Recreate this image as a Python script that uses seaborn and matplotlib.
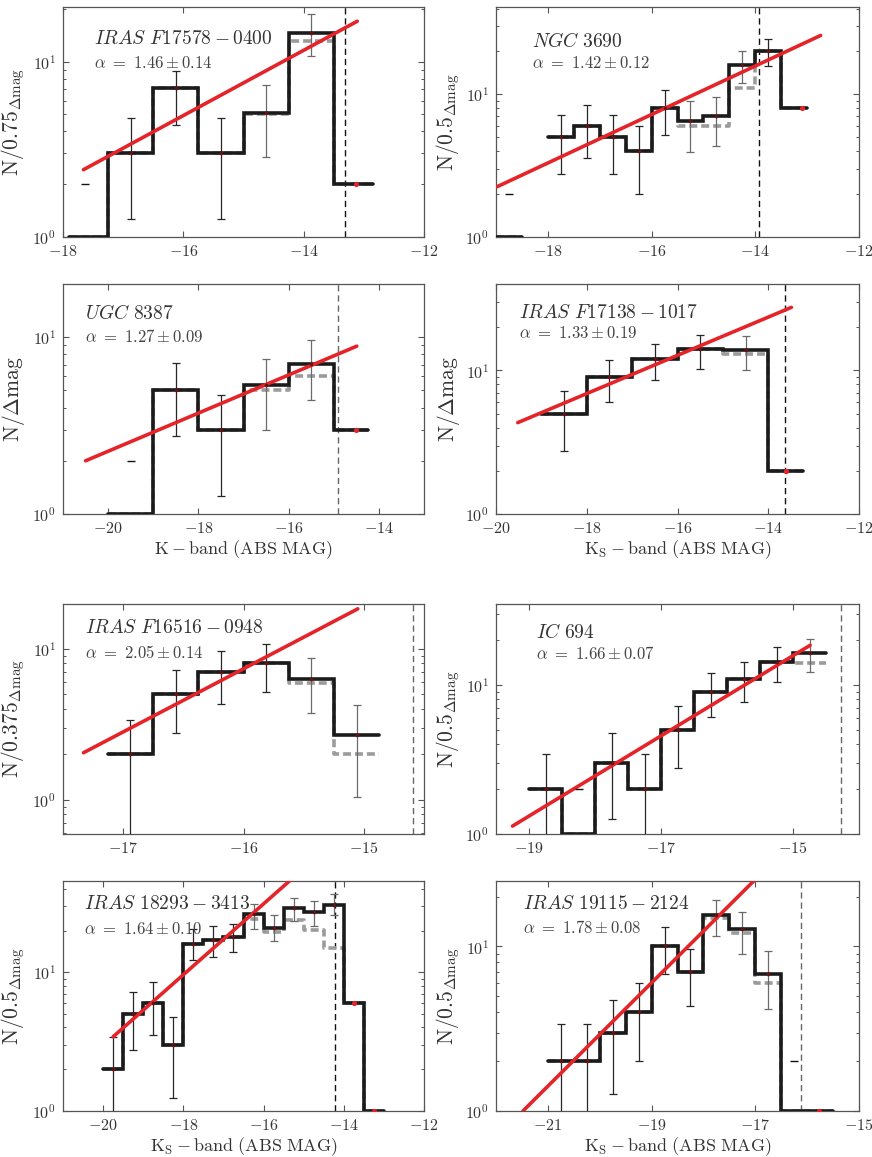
import numpy as np
import matplotlib
matplotlib.use("Agg")
import matplotlib.pyplot as plt
import seaborn as sns
from matplotlib.ticker import NullLocator, NullFormatter

sns.set_style("ticks")
plt.rcParams.update({
    'font.family': 'serif',
    'font.serif': ['cmr10'],
    'mathtext.fontset': 'cm',
    'axes.formatter.use_mathtext': True,
})

nan = np.nan

# --- IRAS F17578-0400 ---
P1_EDGES = [-17.9, -17.25, -16.5, -15.75, -15.0, -14.25, -13.5, -12.85]
P1_COUNTS = [1, 3, 7.1, 3, 5.1, 14.6, 2]
P1_RAW = [1, 3, 7.1, 3, 5.0, 13.2, 2]
P1_ERR_X = [-16.875, -16.125, -15.375, -14.625, -13.875]
P1_ERR_LO = [1.27, 4.37, 1.27, 2.85, 10.8]
P1_ERR_HI = [4.75, 8.8, 4.75, 7.37, 18.6]
P1_FIT_X = [-17.66, -13.11]
P1_FIT_Y = [2.42, 17.0]

# --- NGC 3690 ---
P2_EDGES = [-19.0, -18.5, -18.0, -17.5, -17.0, -16.5, -16.0, -15.5, -15.0, -14.5, -14.0, -13.5, -13.0]
P2_COUNTS = [1, nan, 5, 6, 5, 4, 8, 6.5, 7, 16.2, 20, 8]
P2_RAW = [1, nan, 5, 6, 5, 4, 8, 6, 6, 11.1, 20, 8]
P2_ERR_X = [-17.75, -17.25, -16.75, -16.25, -15.75, -15.25, -14.75, -14.25, -13.75]
P2_ERR_LO = [2.77, 3.56, 2.77, 2.0, 5.18, 3.96, 4.36, 12.1, 15.8]
P2_ERR_HI = [7.17, 8.38, 7.17, 6.0, 10.8, 8.98, 9.63, 20.1, 24.4]
P2_FIT_X = [-18.97, -12.74]
P2_FIT_Y = [2.26, 25.9]

# --- UGC 8387 ---
P3_EDGES = [-20.0, -19.0, -18.0, -17.0, -16.0, -15.0, -14.25]
P3_COUNTS = [1, 5, 3, 5.34, 7.07, 3]
P3_RAW = [1, 5, 3, 5.0, 6.0, 3]
P3_ERR_X = [-18.5, -17.5, -16.5, -15.5]
P3_ERR_LO = [2.77, 1.26, 2.99, 4.41]
P3_ERR_HI = [7.17, 4.69, 7.55, 9.7]
P3_FIT_X = [-20.5, -14.49]
P3_FIT_Y = [2.0, 8.9]

# --- IRAS F17138-1017 ---
P4_EDGES = [-19.0, -18.0, -17.0, -16.0, -15.0, -14.0, -13.23]
P4_COUNTS = [5, 9, 12, 14.0, 13.8, 2]
P4_RAW = [5, 9, 12, 14.0, 13.0, 2]
P4_ERR_X = [-18.5, -17.5, -16.5, -15.5, -14.5]
P4_ERR_LO = [2.75, 6.03, 8.52, 10.3, 10.0]
P4_ERR_HI = [7.18, 11.9, 15.3, 17.6, 17.3]
P4_FIT_X = [-19.52, -13.49]
P4_FIT_Y = [4.33, 27.5]

# --- IRAS F16516-0948 ---
P5_EDGES = [-17.125, -16.75, -16.375, -16.0, -15.625, -15.25, -14.875]
P5_COUNTS = [2, 5, 7, 8.05, 6.31, 2.67]
P5_RAW = [2, 5, 7, 8.05, 5.94, 2.0]
P5_ERR_X = [-16.94, -16.56, -16.19, -15.81, -15.44, -15.06]
P5_ERR_LO = [0.5, 2.75, 4.34, 5.15, 3.73, 1.04]
P5_ERR_HI = [3.4, 7.2, 9.6, 10.8, 8.7, 4.27]
P5_FIT_X = [-17.33, -15.05]
P5_FIT_Y = [2.05, 18.4]

# --- IC 694 ---
P6_EDGES = [-19.0, -18.5, -18.0, -17.5, -17.0, -16.5, -16.0, -15.5, -15.0, -14.5]
P6_COUNTS = [2, 1, 3, 2, 5, 9, 11, 14.3, 16.3]
P6_RAW = [2, 1, 3, 2, 5, 9, 11, 14.3, 14.1]
P6_ERR_X = [-18.75, -17.75, -17.25, -16.75, -16.25, -15.75, -15.25, -14.75]
P6_ERR_LO = [0.5, 1.26, 0.5, 2.76, 6.13, 7.65, 10.5, 12.3]
P6_ERR_HI = [3.42, 4.74, 3.42, 7.23, 11.97, 14.35, 18.1, 20.3]
P6_FIT_X = [-19.25, -14.74]
P6_FIT_Y = [1.13, 18.5]

# --- IRAS 18293-3413 ---
P7_EDGES = [-20, -19.5, -19, -18.5, -18, -17.5, -17, -16.5, -16, -15.5, -15, -14.5, -14, -13.5, -13]
P7_COUNTS = [2, 5, 6, 3, 16, 17.1, 17.9, 26.1, 20.9, 29.0, 27.2, 30.8, 6, 1]
P7_RAW = [2, 5, 6, 3, 16, 17.1, 17.9, 24.3, 19.5, 24.0, 20.2, 15.0, 6, 1]
P7_ERR_X = [-19.75, -19.25, -18.75, -18.25, -17.75, -17.25, -16.75, -16.25, -15.75, -15.25, -14.75, -14.25]
P7_ERR_LO = [0.5, 2.75, 3.54, 1.25, 12.3, 12.8, 13.95, 20.6, 16.7, 23.4, 21.7, 25.7]
P7_ERR_HI = [3.39, 7.17, 8.47, 4.73, 20.6, 21.4, 22.4, 31.2, 25.7, 34.5, 32.6, 36.4]
P7_FIT_X = [-19.75, -15.3]
P7_FIT_Y = [3.43, 47]

# --- IRAS 19115-2124 ---
P8_EDGES = [-21, -20.5, -20, -19.5, -19, -18.5, -18, -17.5, -17, -16.5, -16, -15.5]
P8_COUNTS = [2, 2, 3, 4, 10, 7, 15.6, 12.7, 6.76, 1, 1]
P8_RAW = [2, 2, 3, 4, 10, 7, 14.9, 12.1, 6.02, 1, 1]
P8_ERR_X = [-20.75, -20.25, -19.75, -19.25, -18.75, -18.25, -17.75, -17.25, -16.75]
P8_ERR_LO = [0.5, 0.5, 1.27, 2.0, 6.82, 4.34, 11.5, 9.02, 4.14]
P8_ERR_HI = [3.39, 3.39, 4.74, 6.02, 13.1, 9.68, 19.2, 16.2, 9.37]
P8_FIT_X = [-21.48, -17.03]
P8_FIT_Y = [1.0, 25]

NAMES = [r'$IRAS\ F17578-0400$', r'$NGC\ 3690$', r'$UGC\ 8387$', r'$IRAS\ F17138-1017$',
         r'$IRAS\ F16516-0948$', r'$IC\ 694$', r'$IRAS\ 18293-3413$', r'$IRAS\ 19115-2124$']
ALPHAS = ['1.46', '1.42', '1.27', '1.33', '2.05', '1.66', '1.64', '1.78']
ALPHA_ERRS = ['0.14', '0.12', '0.09', '0.19', '0.14', '0.07', '0.10', '0.08']
YLABELS = [r'$\mathrm{N/0.75_{\Delta mag}}$', r'$\mathrm{N/0.5_{\Delta mag}}$',
           r'$\mathrm{N/\Delta mag}$', r'$\mathrm{N/\Delta mag}$',
           r'$\mathrm{N/0.375_{\Delta mag}}$', r'$\mathrm{N/0.5_{\Delta mag}}$',
           r'$\mathrm{N/0.5_{\Delta mag}}$', r'$\mathrm{N/0.5_{\Delta mag}}$']
XLABELS = [None, None, r'$\mathrm{K - band\ (ABS\ MAG)}$', r'$\mathrm{K_S - band\ (ABS\ MAG)}$',
           None, None, r'$\mathrm{K_S - band\ (ABS\ MAG)}$', r'$\mathrm{K_S - band\ (ABS\ MAG)}$']
XLIMS = [(-18, -12), (-19, -12), (-21, -13), (-20, -12), (-17.5, -14.5), (-19.5, -14), (-21, -12), (-22, -15)]
YLIMS = [(1, 20.5), (1, 41), (1, 20), (1, 40), (0.594, 19.8), (1, 35), (1, 45.5), (1, 25)]
XTICKS = [[-18, -16, -14, -12], [-18, -16, -14, -12], [-20, -18, -16, -14], [-20, -18, -16, -14, -12],
          [-17, -16, -15], [-19, -17, -15], [-20, -18, -16, -14, -12], [-21, -19, -17, -15]]
# completeness limits (vertical dashed lines)
CUT_X = [-13.31, -13.92, -14.91, -13.62, -14.59, -14.28, -14.21, -16.11]
CUT_GRAY = [False, False, True, False, True, True, False, True]
# isolated limit markers and points beyond the completeness limit
LIMIT_X = [[-17.63], [-18.75], [-19.5], [], [], [-18.25], [], [-16.25]]
LIMIT_Y = [[2], [2], [2], [], [], [2], [], [2]]
RED_X = [[-13.13], [-13.1], [-14.5], [-13.6], [], [], [-13.74, -13.24], [-15.77]]
RED_Y = [[2], [8], [3], [2], [], [], [6, 1], [1]]

EDGES = [P1_EDGES, P2_EDGES, P3_EDGES, P4_EDGES, P5_EDGES, P6_EDGES, P7_EDGES, P8_EDGES]
COUNTS = [P1_COUNTS, P2_COUNTS, P3_COUNTS, P4_COUNTS, P5_COUNTS, P6_COUNTS, P7_COUNTS, P8_COUNTS]
RAWS = [P1_RAW, P2_RAW, P3_RAW, P4_RAW, P5_RAW, P6_RAW, P7_RAW, P8_RAW]
ERR_X = [P1_ERR_X, P2_ERR_X, P3_ERR_X, P4_ERR_X, P5_ERR_X, P6_ERR_X, P7_ERR_X, P8_ERR_X]
ERR_LO = [P1_ERR_LO, P2_ERR_LO, P3_ERR_LO, P4_ERR_LO, P5_ERR_LO, P6_ERR_LO, P7_ERR_LO, P8_ERR_LO]
ERR_HI = [P1_ERR_HI, P2_ERR_HI, P3_ERR_HI, P4_ERR_HI, P5_ERR_HI, P6_ERR_HI, P7_ERR_HI, P8_ERR_HI]
FIT_X = [P1_FIT_X, P2_FIT_X, P3_FIT_X, P4_FIT_X, P5_FIT_X, P6_FIT_X, P7_FIT_X, P8_FIT_X]
FIT_Y = [P1_FIT_Y, P2_FIT_Y, P3_FIT_Y, P4_FIT_Y, P5_FIT_Y, P6_FIT_Y, P7_FIT_Y, P8_FIT_Y]

# layout (pixels of the 872x1157 figure)
COL_LEFT = [63, 496]
COL_W = [361, 363]
ROW_TOP = [7, 284, 604, 881]
ROW_H = 230
NAME_POS = [(0.085, 0.86), (0.10, 0.85), (0.062, 0.873), (0.064, 0.876),
            (0.062, 0.895), (0.11, 0.875), (0.057, 0.90), (0.074, 0.90)]
ALPHA_Y = [0.758, 0.758, 0.772, 0.789, 0.789, 0.786, 0.793, 0.796]

STEP_C = '#1b1b1b'
RAW_C = '#9b9b9b'
FIT_C = '#e5242a'
TEXT_C = '#333333'
AXIS_C = '#555555'


def step_xy(edges, vals):
    xs, ys = [], []
    for i, v in enumerate(vals):
        if np.isnan(v):
            xs.append(np.nan)
            ys.append(np.nan)
        else:
            xs += [edges[i], edges[i + 1]]
            ys += [v, v]
    return xs, ys


W, H = 872, 1157
fig = plt.figure(figsize=(W / 100, H / 100), dpi=100)

for k in range(8):
    row, col = divmod(k, 2)
    ax = fig.add_axes([COL_LEFT[col] / W, 1 - (ROW_TOP[row] + ROW_H) / H, COL_W[col] / W, ROW_H / H])
    ax.set_yscale('log')
    edges = np.array(EDGES[k], dtype=float)
    counts = np.array(COUNTS[k], dtype=float)
    raw = np.array(RAWS[k], dtype=float)

    # completeness limit
    ax.axvline(CUT_X[k], color='#666666' if CUT_GRAY[k] else '#111111', lw=1.0,
               dashes=(4.5, 2.8), zorder=1)

    # raw counts (gray dashed) and corrected counts (black)
    xs, ys = step_xy(edges, raw)
    ax.plot(xs, ys, color=RAW_C, lw=2.6, dashes=(2.2, 1.1), zorder=2)
    xs, ys = step_xy(edges, counts)
    ax.plot(xs, ys, color=STEP_C, lw=2.6, zorder=4, solid_joinstyle='miter')

    # error bars
    ex = np.array(ERR_X[k])
    idx = np.searchsorted(edges, ex) - 1
    ey = counts[idx]
    lo = ey - np.array(ERR_LO[k])
    hi = np.array(ERR_HI[k]) - ey
    corrected = raw[idx] < counts[idx] - 0.05
    for c_flag, color in [(False, '#262626'), (True, '#6a6a6a')]:
        m = corrected == c_flag
        if m.any():
            ax.errorbar(ex[m], ey[m], yerr=[lo[m], hi[m]], fmt='none', ecolor=color,
                        elinewidth=0.9, capsize=2.8, capthick=0.9, zorder=3)
    sns.scatterplot(x=ex, y=ey, ax=ax, color='#6b1111', s=7, linewidth=0, zorder=6)

    # power-law fit
    sns.lineplot(x=FIT_X[k], y=FIT_Y[k], ax=ax, color=FIT_C, lw=2.6, zorder=5)

    if LIMIT_X[k]:
        ax.plot(LIMIT_X[k], LIMIT_Y[k], ls='none', marker='_', ms=6, mew=1.0, color='#111111', zorder=6)
    if RED_X[k]:
        sns.scatterplot(x=RED_X[k], y=RED_Y[k], ax=ax, color=FIT_C, s=14, linewidth=0, zorder=7)

    ax.set_xlim(*XLIMS[k])
    ax.set_ylim(*YLIMS[k])
    ax.set_xticks(XTICKS[k])
    ax.xaxis.set_minor_locator(NullLocator())
    ax.yaxis.set_minor_formatter(NullFormatter())
    ax.tick_params(which='both', direction='in', top=True, right=True, color=AXIS_C,
                   labelcolor=TEXT_C, labelsize=11.5, pad=5)
    ax.tick_params(which='major', length=4.5, width=0.8)
    ax.tick_params(which='minor', length=2.5, width=0.7)
    for sp in ax.spines.values():
        sp.set_color(AXIS_C)
        sp.set_linewidth(0.9)

    ax.set_ylabel(YLABELS[k], fontsize=15.5, color=TEXT_C)
    ax.yaxis.set_label_coords(-0.1 if col == 0 else -0.095, 0.5)
    if XLABELS[k]:
        ax.set_xlabel(XLABELS[k], fontsize=13, color=TEXT_C)
        ax.xaxis.set_label_coords(0.5, -0.105)
    else:
        ax.set_xlabel('')

    nx, ny = NAME_POS[k]
    ax.text(nx, ny, NAMES[k], transform=ax.transAxes, fontsize=14, color=TEXT_C, va='center', ha='left')
    ax.text(nx, ALPHA_Y[k], r'$\alpha\ =\ %s\pm%s$' % (ALPHAS[k], ALPHA_ERRS[k]), transform=ax.transAxes,
            fontsize=12, color='#444444', va='center', ha='left')

fig.savefig('out.png', dpi=100)
